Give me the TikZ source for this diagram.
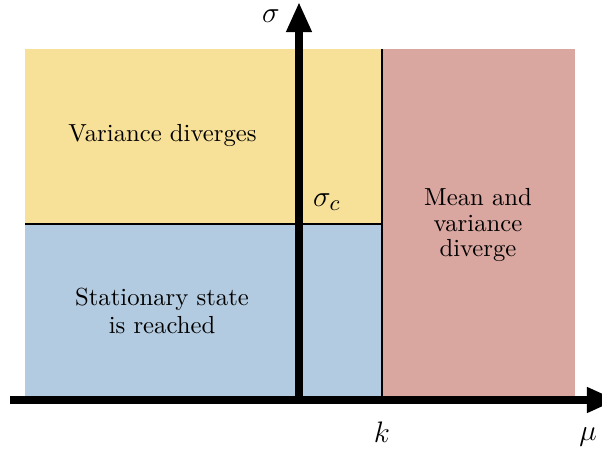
\documentclass[tikz,border=0pt]{standalone}
\usetikzlibrary{arrows.meta}
\definecolor{cyel}{RGB}{247,224,151}
\definecolor{cblu}{RGB}{179,203,224}
\definecolor{cred}{RGB}{217,166,160}
\begin{document}
\begin{tikzpicture}[x=0.405pt,y=-0.405pt,
  axis/.style={line width=3pt,-{Triangle[width=9.7pt,length=12.2pt]}},
  border/.style={line width=0.8pt},
  lbl/.style={align=center,inner sep=0pt},
  mlbl/.style={inner sep=0pt,font=\fontsize{12.5}{14}\selectfont}]
\useasboundingbox (0,0) rectangle (602,453);
\fill[cyel] (25,49) rectangle (382,224);
\fill[cblu] (25,224) rectangle (382,397);
\fill[cred] (382,49) rectangle (575,397);
\coordinate (ltop) at (382,49);
\coordinate (lbot) at (382,397);
\coordinate (hl) at (25,224);
\coordinate (hr) at (382,224);
\draw[border] (ltop) -- (lbot);
\draw[border] (hl) -- (hr);
\coordinate (yo) at (299,400);
\coordinate (yt) at (299,2);
\coordinate (xo) at (10,400);
\coordinate (xt) at (617,400);
\draw[axis] (yo) -- (yt);
\draw[axis] (xo) -- (xt);
\node[lbl] (t1) at (162.5,135) {Variance diverges};
\node[lbl,font=\fontsize{10}{11}\selectfont] (t2) at (162,311) {Stationary state\\is reached};
\node[lbl,font=\fontsize{10}{10.2}\selectfont] (t3) at (478,225) {Mean and\\variance\\diverge};
\node[mlbl] (sig) at (271,16) {$\sigma$};
\node[mlbl] (sigc) at (327,202) {$\sigma_c$};
\node[mlbl] (k) at (382,432) {$k$};
\node[mlbl] (mu) at (588,437) {$\mu$};
\end{tikzpicture}
\end{document}
